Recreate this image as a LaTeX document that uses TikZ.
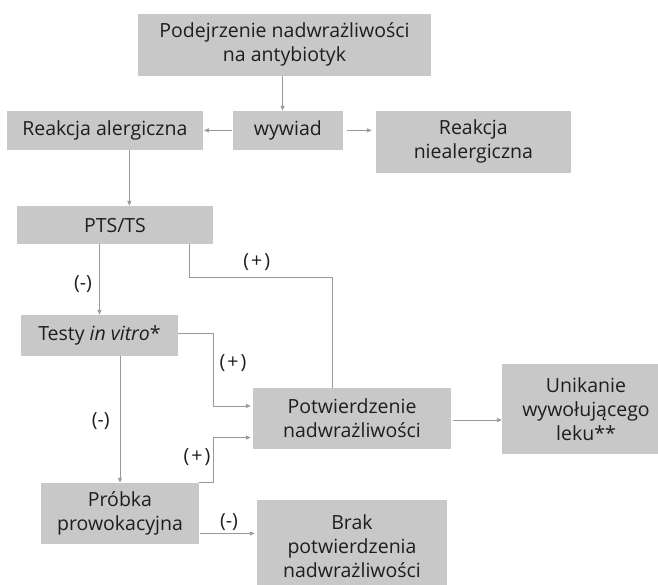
\documentclass[tikz,border=0pt]{standalone}
\usepackage{fontspec}
\setmainfont{Open Sans}
\usetikzlibrary{arrows.meta,calc}
\definecolor{boxgray}{HTML}{C8C8C8}
\definecolor{linegray}{HTML}{9A9A9A}
\definecolor{txt}{HTML}{1E1E1E}
\newcommand{\plab}{(\kern2pt+\kern2pt)}
\begin{document}
\begin{tikzpicture}[x=1pt,y=-1pt,
  box/.style={fill=boxgray, text=txt, inner sep=0pt, align=center,
    font=\fontsize{19.5}{24}\selectfont},
  lbl/.style={text=txt, inner sep=0pt, font=\fontsize{19.5}{24}\selectfont},
  conn/.style={draw=linegray, line width=0.9pt},
  arr/.style={conn, -{Triangle[length=5pt,width=4pt]}}]
\useasboundingbox (0,0) rectangle (658,585);
\clip (0,0) rectangle (658,585);
% boxes
\node[box, minimum width=293pt, minimum height=61.7pt] (top) at (284.5,44.85)
  {Podejrzenie nadwrażliwości\\na antybiotyk};
\node[box, minimum width=195.7pt, minimum height=38.7pt] (ra) at (104.85,130.35)
  {Reakcja alergiczna};
\node[box, minimum width=109.7pt, minimum height=38.7pt] (wyw) at (287.85,130.35)
  {wywiad};
\node[box, minimum width=194.7pt, minimum height=61.7pt] (rn) at (473.35,141.85)
  {Reakcja\\niealergiczna};
\node[box, minimum width=196pt, minimum height=38.3pt] (pts) at (115,225.15)
  {PTS/TS};
\node[box, minimum width=157pt, minimum height=41pt] (testy) at (99.5,335.5)
  {Testy \textit{in vitro}*};
\node[box, minimum width=198pt, minimum height=61pt] (pot) at (352,418.5)
  {Potwierdzenie\\nadwrażliwości};
\node[box, minimum width=168pt, minimum height=90pt] (unik) at (586,409)
  {Unikanie\\wywołującego\\leku**};
\node[box, minimum width=158pt, minimum height=61pt] (probka) at (120,513.5)
  {Próbka\\prowokacyjna};
\node[box, minimum width=190pt, minimum height=93pt] (brak) at (352,546.5)
  {Brak\\potwierdzenia\\nadwrażliwości};
% connectors
\draw[arr] ([xshift=-2pt]top.south) -- ([xshift=-2pt]top.south |- wyw.north);
\draw[arr, shorten <=1pt, shorten >=1pt] (wyw.west) -- (ra.east);
\draw[arr, shorten <=4pt, shorten >=4pt] (wyw.east) -- (rn.west |- wyw.east);
\draw[arr] ([xshift=24.5pt]ra.south) -- ([xshift=24.5pt]ra.south |- pts.north);
\draw[arr] (testy.north |- pts.south) -- (testy.north);
\draw[conn] ([xshift=-24pt]pts.south east) -- ++(0,33.4) -| ([xshift=-20pt]pot.north);
\draw[arr, shorten >=2pt] ([yshift=2pt]testy.east) -- ++(35.3,0) |- ([yshift=12.5pt]pot.west);
\draw[arr] (probka.north |- testy.south) -- (probka.north);
\draw[arr, shorten >=2pt] (probka.north east) -- ++(14,0) |- ([yshift=-19pt]pot.west);
\draw[arr, shorten <=1pt, shorten >=2pt] ([yshift=-20pt]probka.east) -- ([yshift=-20pt]probka.east -| brak.west);
\draw[arr, shorten <=1.5pt] ([yshift=-1.5pt]pot.east) -- ([yshift=-1.5pt]pot.east -| unik.west);
% labels
\node[lbl] (l1) at (256.7,261.7) {\plab};
\node[lbl] (l2) at (233,363) {\plab};
\node[lbl] (l3) at (197,457) {\plab};
\node[lbl] (l4) at (83,284) {(-)};
\node[lbl] (l5) at (100.7,420.7) {(-)};
\node[lbl] (l6) at (229,521.7) {(-)};
\end{tikzpicture}
\end{document}
